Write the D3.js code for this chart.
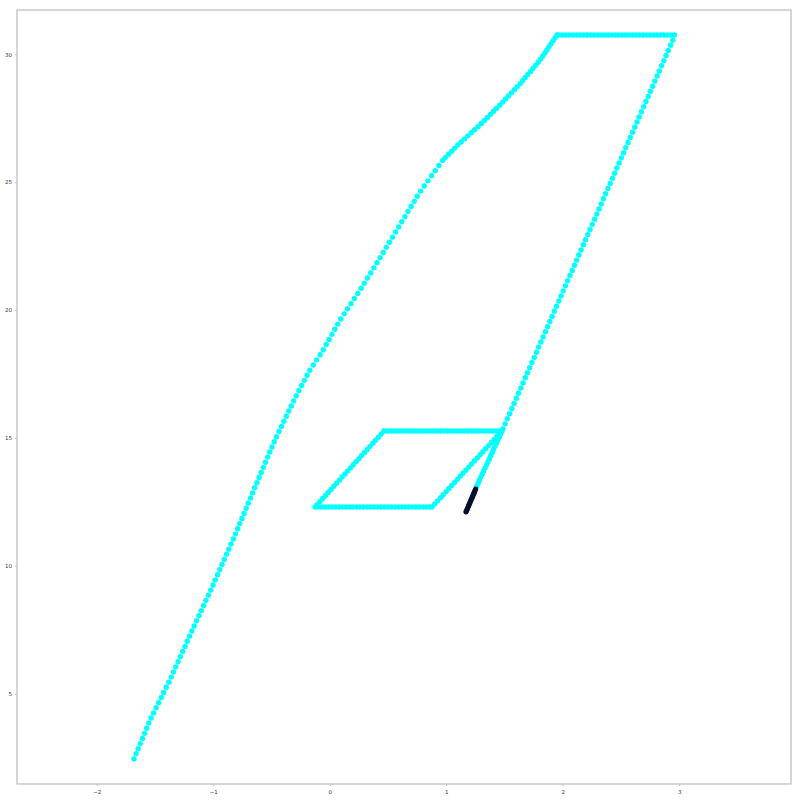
<!DOCTYPE html>
<html>
<head>
<meta charset="utf-8">
<script src="https://cdn.jsdelivr.net/npm/d3@7"></script>
<style>
html,body{margin:0;padding:0;background:#fff;}
svg{display:block;}
</style>
</head>
<body>
<svg id="chart" width="800" height="800"></svg>
<script>
// ---- data ----
const xTicks = [-2, -1, 0, 1, 2, 3];
const yTicks = [5, 10, 15, 20, 25, 30];

// long left branch, from bottom start to top-left corner
const leftCurve = [
[-1.680,2.45],[-1.662,2.65],[-1.644,2.85],[-1.626,3.05],[-1.607,3.25],[-1.589,3.45],[-1.571,3.65],[-1.553,3.85],
[-1.533,4.05],[-1.512,4.25],[-1.490,4.45],[-1.468,4.65],[-1.446,4.85],[-1.425,5.05],[-1.403,5.25],[-1.381,5.45],
[-1.360,5.65],[-1.341,5.85],[-1.321,6.05],[-1.301,6.25],[-1.282,6.45],[-1.262,6.65],[-1.242,6.85],[-1.223,7.05],
[-1.203,7.25],[-1.183,7.45],[-1.163,7.65],[-1.143,7.85],[-1.122,8.05],[-1.102,8.25],[-1.082,8.45],[-1.062,8.65],
[-1.041,8.85],[-1.021,9.05],[-1.001,9.25],[-0.982,9.45],[-0.962,9.65],[-0.943,9.85],[-0.924,10.05],[-0.905,10.25],
[-0.885,10.45],[-0.866,10.65],[-0.847,10.85],[-0.827,11.05],[-0.808,11.25],[-0.790,11.45],[-0.772,11.65],[-0.753,11.85],
[-0.735,12.05],[-0.717,12.25],[-0.699,12.45],[-0.680,12.65],[-0.662,12.85],[-0.644,13.05],[-0.625,13.25],[-0.606,13.45],
[-0.588,13.65],[-0.569,13.85],[-0.551,14.05],[-0.532,14.25],[-0.514,14.45],[-0.495,14.65],[-0.476,14.85],[-0.456,15.05],
[-0.435,15.25],[-0.414,15.45],[-0.393,15.65],[-0.372,15.85],[-0.351,16.05],[-0.330,16.25],[-0.309,16.45],[-0.287,16.65],
[-0.264,16.85],[-0.241,17.05],[-0.217,17.25],[-0.194,17.45],[-0.170,17.65],[-0.141,17.85],[-0.112,18.05],[-0.082,18.25],
[-0.055,18.45],[-0.030,18.65],[-0.005,18.85],[0.020,19.05],[0.044,19.25],[0.069,19.45],[0.095,19.65],[0.124,19.85],
[0.153,20.05],[0.183,20.25],[0.212,20.45],[0.241,20.65],[0.270,20.85],[0.297,21.05],[0.324,21.25],[0.352,21.45],
[0.379,21.65],[0.406,21.85],[0.433,22.05],[0.460,22.25],[0.486,22.45],[0.513,22.65],[0.539,22.85],[0.566,23.05],
[0.592,23.25],[0.619,23.45],[0.646,23.65],[0.672,23.85],[0.699,24.05],[0.726,24.25],[0.752,24.45],[0.780,24.65],
[0.811,24.85],[0.843,25.05],[0.875,25.25],[0.906,25.45],[0.938,25.65],[0.970,25.85],
[0.995,25.97],[1.021,26.09],[1.048,26.21],[1.074,26.33],[1.100,26.45],[1.128,26.57],[1.157,26.69],[1.186,26.81],
[1.215,26.93],[1.244,27.05],[1.273,27.17],[1.301,27.29],[1.327,27.41],[1.354,27.53],[1.380,27.65],[1.407,27.77],
[1.433,27.89],[1.460,28.01],[1.485,28.13],[1.510,28.25],[1.535,28.37],[1.560,28.49],[1.585,28.61],[1.610,28.73],
[1.635,28.85],[1.657,28.97],[1.679,29.09],[1.701,29.21],[1.724,29.33],[1.746,29.45],[1.768,29.57],[1.790,29.69],
[1.811,29.81],[1.829,29.93],[1.847,30.05],[1.865,30.17],[1.882,30.29],[1.900,30.41],[1.918,30.53],[1.936,30.65],
[1.951,30.75]
];

// top horizontal edge (y constant)
const topEdgeY = 30.75;
const topEdgeX = [1.97,2.00,2.03,2.06,2.09,2.12,2.15,2.18,2.21,2.24,2.27,2.30,2.33,2.36,2.39,2.42,2.45,2.48,2.51,2.54,
2.57,2.60,2.63,2.66,2.69,2.72,2.75,2.78,2.81,2.84,2.87,2.90,2.93,2.96];

// long right diagonal, top-right corner down to the loop
const rightDiagonal = [
[2.945,30.55],[2.926,30.35],[2.906,30.15],[2.887,29.95],[2.868,29.75],[2.849,29.55],[2.830,29.35],[2.811,29.15],
[2.791,28.95],[2.772,28.75],[2.753,28.55],[2.734,28.35],[2.715,28.15],[2.696,27.95],[2.676,27.75],[2.657,27.55],
[2.638,27.35],[2.619,27.15],[2.600,26.95],[2.580,26.75],[2.561,26.55],[2.542,26.35],[2.523,26.15],[2.504,25.95],
[2.485,25.75],[2.465,25.55],[2.446,25.35],[2.427,25.15],[2.408,24.95],[2.389,24.75],[2.369,24.55],[2.350,24.35],
[2.331,24.15],[2.312,23.95],[2.293,23.75],[2.274,23.55],[2.254,23.35],[2.235,23.15],[2.216,22.95],[2.197,22.75],
[2.178,22.55],[2.158,22.35],[2.139,22.15],[2.120,21.95],[2.101,21.75],[2.082,21.55],[2.063,21.35],[2.043,21.15],
[2.024,20.95],[2.005,20.75],[1.986,20.55],[1.967,20.35],[1.947,20.15],[1.928,19.95],[1.909,19.75],[1.890,19.55],
[1.871,19.35],[1.852,19.15],[1.832,18.95],[1.813,18.75],[1.794,18.55],[1.775,18.35],[1.756,18.15],[1.736,17.95],
[1.717,17.75],[1.698,17.55],[1.679,17.35],[1.660,17.15],[1.641,16.95],[1.621,16.75],[1.602,16.55],[1.583,16.35],
[1.564,16.15],[1.545,15.95],[1.525,15.75],[1.506,15.55],[1.487,15.35],[1.479,15.27]
];

// small parallelogram loop
const loopTopY = 15.27;
const loopTopX = [0.47,0.50,0.53,0.56,0.59,0.62,0.65,0.68,0.71,0.74,0.77,0.80,0.83,0.86,0.89,0.92,0.95,0.98,1.01,1.04,
1.07,1.10,1.13,1.16,1.19,1.22,1.25,1.28,1.31,1.34,1.37,1.40,1.43,1.46];
const loopLeft = [
[0.466,15.27],[0.442,15.15],[0.418,15.03],[0.394,14.91],[0.370,14.79],[0.346,14.67],[0.323,14.55],[0.299,14.43],
[0.275,14.31],[0.251,14.19],[0.227,14.07],[0.203,13.95],[0.179,13.83],[0.155,13.71],[0.131,13.59],[0.107,13.47],
[0.083,13.35],[0.059,13.23],[0.036,13.11],[0.012,12.99],[-0.012,12.87],[-0.036,12.75],[-0.060,12.63],[-0.084,12.51],
[-0.108,12.39],[-0.126,12.30]
];
const loopBottomY = 12.30;
const loopBottomX = [-0.10,-0.07,-0.04,-0.01,0.02,0.05,0.08,0.11,0.14,0.17,0.20,0.23,0.26,0.29,0.32,0.35,0.38,0.41,
0.44,0.47,0.50,0.53,0.56,0.59,0.62,0.65,0.68,0.71,0.74,0.77,0.80,0.83,0.86,0.878];
const loopRight = [
[0.902,12.42],[0.927,12.54],[0.951,12.66],[0.975,12.78],[0.999,12.90],[1.024,13.02],[1.048,13.14],[1.072,13.26],
[1.097,13.38],[1.121,13.50],[1.145,13.62],[1.169,13.74],[1.194,13.86],[1.218,13.98],[1.242,14.10],[1.267,14.22],
[1.291,14.34],[1.315,14.46],[1.339,14.58],[1.364,14.70],[1.388,14.82],[1.412,14.94],[1.436,15.06],[1.461,15.18]
];

// final descending tail (cyan part, then dark part)
const tailCyan = [
[1.467,15.15],[1.455,15.03],[1.443,14.91],[1.431,14.79],[1.419,14.67],[1.407,14.55],[1.395,14.43],[1.383,14.31],
[1.371,14.19],[1.359,14.07],[1.347,13.95],[1.334,13.83],[1.322,13.71],[1.310,13.59],[1.298,13.47],[1.286,13.35],
[1.274,13.23],[1.262,13.11]
];
const tailDark = [
[1.253,13.00],[1.247,12.94],[1.242,12.88],[1.236,12.82],[1.231,12.76],[1.225,12.70],[1.220,12.64],[1.214,12.58],
[1.209,12.52],[1.203,12.46],[1.197,12.40],[1.192,12.34],[1.186,12.28],[1.181,12.22],[1.175,12.16],[1.170,12.11]
];

const cyanColor = "#00ffff";
const darkColor = "#081030";

// ---- assemble ----
const cyanPoints = []
  .concat(leftCurve)
  .concat(topEdgeX.map(x => [x, topEdgeY]))
  .concat(rightDiagonal)
  .concat(loopTopX.map(x => [x, loopTopY]))
  .concat(loopLeft)
  .concat(loopBottomX.map(x => [x, loopBottomY]))
  .concat(loopRight)
  .concat(tailCyan);

// ---- layout ----
const svg = d3.select("#chart");
const plot = {left: 17, right: 791, top: 10, bottom: 784};

const x = d3.scaleLinear().domain([-2.684, 3.960]).range([plot.left, plot.right]);
const y = d3.scaleLinear().domain([1.47, 31.73]).range([plot.bottom, plot.top]);

const fmt = d => (d < 0 ? "\u2212" + Math.abs(d) : String(d));

// points
const g = svg.append("g");
g.selectAll("circle.cyan").data(cyanPoints).enter().append("circle")
  .attr("class", "cyan")
  .attr("cx", d => x(d[0])).attr("cy", d => y(d[1]))
  .attr("r", 2.7).attr("fill", cyanColor);
g.selectAll("circle.dark").data(tailDark).enter().append("circle")
  .attr("class", "dark")
  .attr("cx", d => x(d[0])).attr("cy", d => y(d[1]))
  .attr("r", 2.6).attr("fill", darkColor);

// frame
svg.append("rect")
  .attr("x", plot.left).attr("y", plot.top)
  .attr("width", plot.right - plot.left).attr("height", plot.bottom - plot.top)
  .attr("fill", "none").attr("stroke", "#bfbfbf").attr("stroke-width", 1.3);

// axes
const xAxis = d3.axisBottom(x).tickValues(xTicks).tickFormat(fmt).tickSize(2).tickPadding(4);
const yAxis = d3.axisLeft(y).tickValues(yTicks).tickFormat(fmt).tickSize(2).tickPadding(3);

const gx = svg.append("g").attr("transform", `translate(0,${plot.bottom})`).call(xAxis);
const gy = svg.append("g").attr("transform", `translate(${plot.left},0)`).call(yAxis);
[gx, gy].forEach(a => {
  a.select(".domain").remove();
  a.selectAll(".tick line").attr("stroke", "#bfbfbf").attr("stroke-width", 1);
  a.selectAll(".tick text").attr("fill", "#333").style("font-size", "5.5px")
    .style("font-family", "DejaVu Sans, sans-serif");
});
</script>
</body>
</html>
